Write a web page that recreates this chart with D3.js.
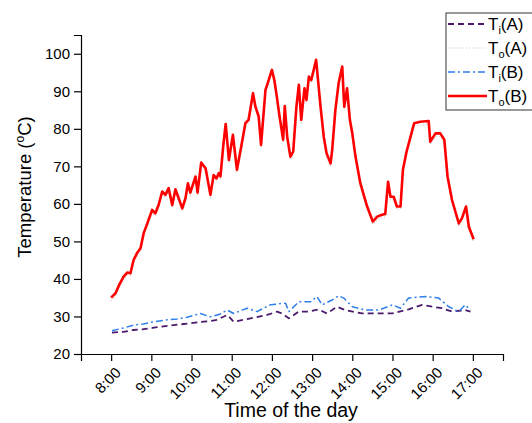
<!DOCTYPE html>
<html><head><meta charset="utf-8">
<script src="https://cdn.jsdelivr.net/npm/d3@7"></script>
<style>body{margin:0;background:#fff}svg{display:block}text{font-family:"Liberation Sans",Arial,sans-serif}</style>
</head><body><svg id="c" width="532" height="423"></svg>
<script>
// time in decimal hours
const toB_t = [8.00,8.11,8.19,8.31,8.40,8.48,8.56,8.65,8.73,8.81,8.90,9.02,9.10,9.18,9.27,9.35,9.43,9.52,9.60,9.77,9.85,9.91,9.97,10.10,10.15,10.24,10.35,10.47,10.55,10.62,10.68,10.72,10.79,10.85,10.93,11.03,11.13,11.23,11.28,11.34,11.42,11.53,11.59,11.67,11.73,11.84,11.92,12.00,12.06,12.11,12.19,12.28,12.32,12.38,12.46,12.53,12.61,12.67,12.73,12.81,12.86,12.92,12.98,13.10,13.21,13.29,13.36,13.46,13.50,13.58,13.66,13.75,13.80,13.87,13.94,14.00,14.08,14.20,14.37,14.51,14.62,14.74,14.82,14.89,14.95,15.03,15.11,15.20,15.26,15.35,15.45,15.54,15.69,15.90,15.94,16.07,16.19,16.29,16.37,16.48,16.65,16.73,16.83,16.90,17.02];
const toB_v = [35.0,36.2,38.2,40.6,41.7,41.5,45.1,47.0,48.2,52.2,54.8,58.4,57.5,59.7,63.3,62.4,64.2,59.7,63.9,58.8,61.5,65.5,63.0,67.3,63.0,71.0,69.5,62.4,67.7,66.8,68.2,67.3,75.5,81.3,71.7,78.4,69.1,74.9,77.9,81.5,82.4,89.5,85.9,83.3,75.7,90.4,93.0,95.7,93.0,89.5,83.3,77.1,86.1,77.9,72.6,73.9,85.9,91.7,82.4,90.8,87.7,93.9,93.0,98.4,85.9,77.9,73.5,70.8,74.4,85.1,92.2,96.6,85.9,90.8,82.4,78.8,72.6,65.5,59.3,55.3,56.6,57.1,57.3,65.9,61.9,61.9,59.3,59.3,69.1,73.9,77.9,81.5,81.9,82.1,76.6,78.8,78.8,77.1,67.3,61.1,54.8,56.2,59.3,53.9,50.6];
const toA_v = [34.2,35.6,37.5,39.8,41.0,40.9,44.3,46.1,47.5,51.4,54.0,57.6,56.8,58.9,62.4,61.7,63.4,59.0,63.0,58.0,60.8,64.6,62.2,66.5,62.3,70.1,68.8,61.6,66.9,66.0,67.3,66.6,74.6,80.4,70.9,77.5,68.4,74.0,77.0,80.6,81.5,88.6,85.1,82.5,74.9,89.6,92.1,94.8,92.2,88.7,82.5,76.3,85.2,77.1,71.8,73.1,85.0,90.8,81.6,90.0,86.9,93.0,92.2,97.5,85.1,77.1,72.7,70.0,73.6,84.2,91.4,95.7,85.1,89.9,81.6,78.0,71.8,64.7,58.5,54.5,55.8,56.3,56.5,65.0,61.1,61.1,58.5,58.5,68.3,73.1,77.1,80.7,81.0,81.2,75.8,78.0,78.0,76.3,66.5,60.3,54.0,55.4,58.5,53.1,49.8];
const tiB_t = [8.02,8.30,8.56,8.80,9.06,9.39,9.65,9.89,10.22,10.47,10.70,10.89,11.05,11.38,11.63,11.96,12.29,12.34,12.42,12.67,12.96,13.12,13.25,13.50,13.66,13.79,14.00,14.33,14.66,15.00,15.20,15.40,15.82,16.15,16.40,16.65,16.81,16.94];
const tiB_v = [26.2,26.9,27.7,28.0,28.6,29.1,29.3,29.8,30.8,29.9,30.6,31.7,30.8,32.2,31.3,33.1,33.5,33.5,31.3,33.9,33.9,35.3,33.1,34.4,35.5,34.9,32.6,31.7,31.7,33.1,32.2,34.9,35.3,34.9,32.6,31.3,33.1,31.7];
const tiA_t = [8.02,8.30,8.56,8.80,9.06,9.56,9.97,10.30,10.60,10.89,11.05,11.47,11.88,12.13,12.25,12.42,12.67,12.92,13.16,13.37,13.62,13.83,14.24,14.57,14.99,15.40,15.74,15.99,16.23,16.48,16.81,16.94];
const tiA_v = [25.7,25.9,26.4,26.6,27.0,27.7,28.2,28.6,29.0,30.4,28.6,29.5,30.4,31.3,30.8,29.5,31.3,31.3,31.9,30.8,32.6,31.7,30.8,30.8,30.8,31.9,33.1,32.6,32.2,31.3,31.7,31.3];
const xTickLabels = ["8:00","9:00","10:00","11:00","12:00","13:00","14:00","15:00","16:00","17:00"];
const yTicks = [20,30,40,50,60,70,80,90,100];
const legendNames = [["T","i","(A)"],["T","o","(A)"],["T","i","(B)"],["T","o","(B)"]];

const svg = d3.select("#c");
const x = d3.scaleLinear().domain([7.25,17.75]).range([81,503]);
const y = d3.scaleLinear().domain([20,105]).range([354,35]);

// axes
const xMajor = d3.range(8,18,1);
const xMinor = d3.range(7.5,17.75,0.5).filter(v=>v%1!==0);
const gx = svg.append("g").attr("transform","translate(0,354)");
gx.call(d3.axisBottom(x).tickValues(xMinor).tickSize(4).tickFormat(""));
gx.call(d3.axisBottom(x).tickValues(xMajor).tickSize(7).tickFormat(""));
gx.selectAll("path.domain").attr("stroke","#000").attr("stroke-width",1.2);
gx.selectAll("line").attr("stroke","#000").attr("stroke-width",1.2);
xMajor.forEach((h,i)=>{
  svg.append("text").attr("transform",`translate(${x(h)+7},${370}) rotate(-45)`)
    .attr("text-anchor","end").attr("dy","0.35em").attr("font-size",15).text(xTickLabels[i]);
});
const yMinor = d3.range(25,105,10);
const gy = svg.append("g").attr("transform","translate(81,0)");
gy.call(d3.axisLeft(y).tickValues(yMinor).tickSize(4).tickFormat(""));
gy.call(d3.axisLeft(y).tickValues(yTicks).tickSize(7).tickPadding(4).tickFormat(d3.format("d")));
gy.selectAll("path.domain").attr("stroke","#000").attr("stroke-width",1.2);
gy.selectAll("line").attr("stroke","#000").attr("stroke-width",1.2);
gy.selectAll("text").attr("font-size",15).attr("fill","#000").style("font-family","Liberation Sans, Arial, sans-serif");

// titles
const yt = svg.append("text").attr("transform","translate(31,187) rotate(-90)").attr("text-anchor","middle").attr("font-size",18.5);
yt.append("tspan").text("Temperature (");
yt.append("tspan").attr("font-size",12).attr("dy",-7).text("o");
yt.append("tspan").attr("dy",7).text("C)");
svg.append("text").attr("x",291).attr("y",417).attr("text-anchor","middle").attr("font-size",19.5).text("Time of the day");

// lines
const line = d3.line().x(d=>x(d[0])).y(d=>y(d[1]));
const zip = (t,v)=>t.map((d,i)=>[d,v[i]]);
const series = [
  {data: zip(tiA_t,tiA_v), color:"#4b1a6e", w:1.8, dash:"6,4"},
  {data: zip(toB_t,toA_v), color:"#c8c8c8", w:1.2, dash:"1,2"},
  {data: zip(tiB_t,tiB_v), color:"#2f7fe8", w:1.5, dash:"7,3,2,3"},
  {data: zip(toB_t,toB_v), color:"#ff0000", w:2.6, dash:null}
];
[1,3,0,2].forEach(i=>{
  const s = series[i];
  svg.append("path").datum(s.data).attr("d",line).attr("fill","none")
    .attr("stroke",s.color).attr("stroke-width",s.w).attr("stroke-dasharray",s.dash)
    .attr("stroke-linejoin","round");
});

// legend
const lg = svg.append("g");
lg.append("rect").attr("x",446).attr("y",13).attr("width",100).attr("height",97)
  .attr("fill","#fff").attr("stroke","#333").attr("stroke-width",1);
legendNames.forEach((n,i)=>{
  const yy = 24 + i*24;
  const s = series[i];
  lg.append("line").attr("x1",448).attr("x2",487).attr("y1",yy).attr("y2",yy)
    .attr("stroke",s.color).attr("stroke-width",s.w).attr("stroke-dasharray",s.dash);
  const t = lg.append("text").attr("x",488).attr("y",yy+6).attr("font-size",17);
  t.append("tspan").text(n[0]);
  t.append("tspan").attr("font-size",11).attr("dy",4).text(n[1]);
  t.append("tspan").attr("dy",-4).text(n[2]);
});
</script></body></html>
